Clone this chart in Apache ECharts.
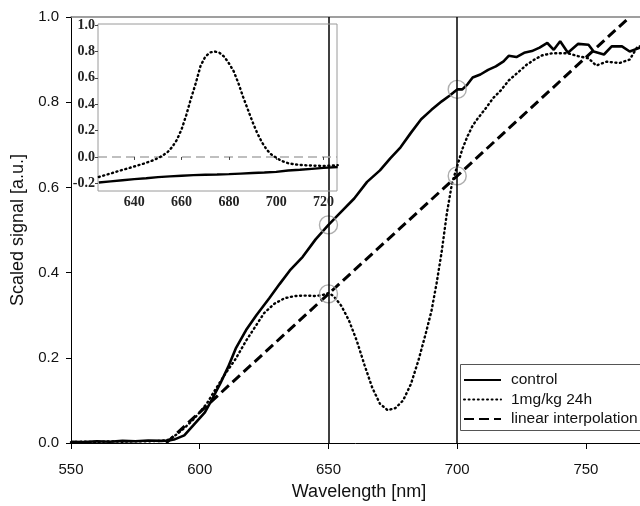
<!DOCTYPE html>
<html><head><meta charset="utf-8">
<script src="https://cdn.jsdelivr.net/npm/echarts@6/dist/echarts.min.js"></script>
<style>html,body{margin:0;padding:0;background:#fff}#c{width:640px;height:506px}</style>
</head><body><div id="c"></div>
<script>
// ---- tick labels / categories ----
const xTicks = [550, 600, 650, 700, 750];
const insetXTicks = [640, 660, 680, 700, 720];
const insetYTicks = [-0.2, 0, 0.2, 0.4, 0.6, 0.8, 1.0];
const seriesNames = ['control', '1mg/kg 24h', 'linear interpolation'];

// ---- main panel: control ----
const controlWl = [550,555,560,565,570,575,580,585,588,590,594,598,602,605,608,611,614,618,622,627,631,635,640,645,650,655,660,665,670,674,678,682,686,690,694,697,700,702,704,706,709,712,715,718,720,723,726,729,732,735,737.5,740,743,747,751,753,757,760,764,767,771,774];
const controlVal = [0.003,0.002,0.004,0.003,0.005,0.004,0.006,0.005,0.006,0.008,0.018,0.045,0.072,0.105,0.14,0.178,0.222,0.265,0.3,0.34,0.373,0.405,0.437,0.478,0.512,0.543,0.574,0.613,0.64,0.668,0.694,0.728,0.76,0.782,0.802,0.815,0.83,0.83,0.842,0.858,0.865,0.876,0.884,0.896,0.909,0.906,0.916,0.92,0.928,0.939,0.923,0.943,0.916,0.937,0.935,0.919,0.912,0.931,0.931,0.919,0.928,0.93];

// ---- main panel: 1mg/kg 24h ----
const dosedWl = [550,555,560,565,570,575,580,585,588,591,594,597,600,603,606,610,614,618,622,625,629,633,637,641,645,648,650,652,655,658,661,664,667,670,673,676,679,682,685,688,690,692,694,696,698,700,702,704,706,708,711,714,717,720,724,727,730,733,737,743,747,751,754,758,763,767,770,774];
const dosedVal = [0.002,0.003,0.002,0.004,0.003,0.004,0.004,0.005,0.008,0.02,0.035,0.052,0.072,0.095,0.125,0.163,0.198,0.24,0.277,0.305,0.327,0.34,0.345,0.346,0.345,0.348,0.352,0.345,0.322,0.287,0.24,0.183,0.13,0.092,0.077,0.082,0.1,0.138,0.195,0.262,0.31,0.375,0.45,0.54,0.61,0.65,0.69,0.72,0.745,0.762,0.785,0.81,0.828,0.851,0.872,0.888,0.9,0.91,0.915,0.915,0.908,0.903,0.886,0.895,0.892,0.9,0.93,0.935];

// ---- main panel: linear interpolation ----
const interpWl = [587, 650, 700, 767];
const interpVal = [0, 0.35, 0.627, 1.0];

// ---- circled points and reference wavelengths ----
const markerWl = [650, 650, 700, 700];
const markerVal = [0.512, 0.35, 0.83, 0.627];
const refLines = [650, 700];

// ---- inset: difference spectra ----
const insetCtrlWl = [625,630,635,640,645,650,655,660,665,670,675,680,685,690,695,700,705,710,715,720,726];
const insetCtrlVal = [-0.194,-0.185,-0.176,-0.168,-0.161,-0.153,-0.147,-0.142,-0.138,-0.135,-0.133,-0.13,-0.126,-0.122,-0.118,-0.113,-0.103,-0.097,-0.09,-0.083,-0.076];
const insetDosedWl = [625,630,635,640,644,648,651,654,656,658,660,662,664,666,668,670,672,674,676,678,680,682,684,686,688,690,692,694,696,698,700,702,705,708,712,716,720,724,726];
const insetDosedVal = [-0.152,-0.125,-0.098,-0.072,-0.05,-0.025,0.0,0.035,0.075,0.13,0.21,0.32,0.445,0.56,0.69,0.76,0.792,0.8,0.79,0.76,0.71,0.65,0.56,0.455,0.36,0.265,0.18,0.11,0.055,0.018,-0.005,-0.028,-0.047,-0.057,-0.063,-0.066,-0.068,-0.065,-0.062];

const zip = (a, b) => a.map((v, i) => [v, b[i]]);
const sans = 'Liberation Sans, Arial, sans-serif';
const serif = 'Liberation Serif, Times New Roman, serif';
const dotted = { type: [1, 3.6], cap: 'round', width: 2.4, color: '#000' };

const chart = echarts.init(document.getElementById('c'), null, { renderer: 'canvas' });
chart.setOption({
  animation: false,
  backgroundColor: '#fff',
  textStyle: { fontFamily: sans },
  grid: [
    { left: 71, top: 17, right: 0, bottom: 59.5, containLabel: false },
    { left: 98, top: 24, width: 239, height: 167, show: true, backgroundColor: 'transparent', borderColor: '#9a9a9a', borderWidth: 1, z: 6 }
  ],
  graphic: [
    { type: 'rect', shape: { x: 74, y: 24, width: 267, height: 184 }, style: { fill: '#fff' }, z: 5, silent: true },
    { type: 'rect', shape: { x: 460.5, y: 364.5, width: 200, height: 66 }, style: { fill: '#fff', stroke: '#555', lineWidth: 1 }, z: 9, silent: true }
  ],
  legend: {
    data: seriesNames,
    orient: 'vertical',
    left: 460, top: 364,
    padding: [8, 10, 6, 3],
    itemWidth: 37, itemHeight: 14, itemGap: 3.5,
    backgroundColor: 'transparent',
    borderWidth: 0,
    itemStyle: { opacity: 0, borderWidth: 0 },
    textStyle: { fontFamily: sans, fontSize: 15.5, color: '#111', padding: [0, 0, 0, 5] },
    z: 10
  },
  xAxis: [
    {
      type: 'value', gridIndex: 0, min: 550, max: 771,
      name: 'Wavelength [nm]', nameLocation: 'middle', nameGap: 40,
      nameTextStyle: { fontSize: 18, color: '#111', fontFamily: sans, padding: [0, 0, 0, 7] },
      axisLine: { lineStyle: { color: '#000', width: 1 } },
      axisTick: { customValues: xTicks, length: 6, lineStyle: { color: '#000' } },
      axisLabel: { customValues: xTicks, fontSize: 15, color: '#111', margin: 19, fontFamily: sans },
      splitLine: { show: false }
    },
    {
      type: 'value', gridIndex: 0, min: 550, max: 771, position: 'top',
      axisLine: { lineStyle: { color: '#808080', width: 1.5 } },
      axisTick: { show: false }, axisLabel: { show: false }, splitLine: { show: false }
    },
    {
      type: 'value', gridIndex: 1, min: 624.65, max: 725.7, z: 7,
      axisLine: { show: false },
      axisTick: { customValues: insetXTicks, length: 3, lineStyle: { color: '#444' } },
      axisLabel: { customValues: insetXTicks, fontSize: 14, fontWeight: 'bold', fontFamily: serif, color: '#222', margin: 4 },
      splitLine: { show: false }
    }
  ],
  yAxis: [
    {
      type: 'value', gridIndex: 0, min: 0, max: 1, interval: 0.2,
      name: 'Scaled signal [a.u.]', nameLocation: 'middle', nameGap: 42,
      nameTextStyle: { fontSize: 18, color: '#111', fontFamily: sans },
      axisLine: { show: true, lineStyle: { color: '#000', width: 1 } },
      axisTick: { show: true, length: 5, lineStyle: { color: '#000' } },
      axisLabel: { fontSize: 15, color: '#111', margin: 12, fontFamily: sans, formatter: v => v.toFixed(1) },
      splitLine: { show: false }
    },
    {
      type: 'value', gridIndex: 1, min: -0.258, max: 1.008, z: 7,
      axisLine: { show: false },
      axisTick: { show: true, customValues: insetYTicks, length: 3, lineStyle: { color: '#444' } },
      axisLabel: { customValues: insetYTicks, fontSize: 14, fontWeight: 'bold', fontFamily: serif, color: '#222', margin: 3, formatter: v => v.toFixed(1) },
      splitLine: { show: false }
    }
  ],
  series: [
    {
      name: seriesNames[0], type: 'line', xAxisIndex: 0, yAxisIndex: 0,
      data: zip(controlWl, controlVal), showSymbol: false, symbol: 'none',
      lineStyle: { color: '#000', width: 2.6 }, itemStyle: { color: '#000' },
      markLine: {
        silent: true, symbol: 'none', label: { show: false },
        lineStyle: { color: '#000', width: 1.5, type: 'solid' },
        data: refLines.map(v => ({ xAxis: v }))
      }
    },
    {
      name: seriesNames[1], type: 'line', xAxisIndex: 0, yAxisIndex: 0,
      data: zip(dosedWl, dosedVal), showSymbol: false, symbol: 'none',
      lineStyle: dotted, itemStyle: { color: '#000' }
    },
    {
      name: seriesNames[2], type: 'line', xAxisIndex: 0, yAxisIndex: 0,
      data: zip(interpWl, interpVal), showSymbol: false, symbol: 'none',
      lineStyle: { color: '#000', width: 3, type: [10, 5] }, itemStyle: { color: '#000' }
    },
    {
      name: 'markers', type: 'scatter', xAxisIndex: 0, yAxisIndex: 0,
      data: zip(markerWl, markerVal), symbol: 'circle', symbolSize: 18, z: 3,
      itemStyle: { color: 'rgba(0,0,0,0)', borderColor: '#9a9a9a', borderWidth: 1.4 },
      silent: true
    },
    {
      name: 'inset control', type: 'line', xAxisIndex: 2, yAxisIndex: 1, z: 8,
      data: zip(insetCtrlWl, insetCtrlVal), showSymbol: false, symbol: 'none',
      lineStyle: { color: '#000', width: 2.4 },
      markLine: {
        silent: true, symbol: 'none', label: { show: false },
        lineStyle: { color: '#aaa', width: 1.5, type: [9, 5] },
        data: [{ yAxis: 0 }]
      }
    },
    {
      name: 'inset 1mg/kg 24h', type: 'line', xAxisIndex: 2, yAxisIndex: 1, z: 8,
      data: zip(insetDosedWl, insetDosedVal), showSymbol: false, symbol: 'none',
      lineStyle: dotted
    }
  ]
});
</script>
</body></html>
